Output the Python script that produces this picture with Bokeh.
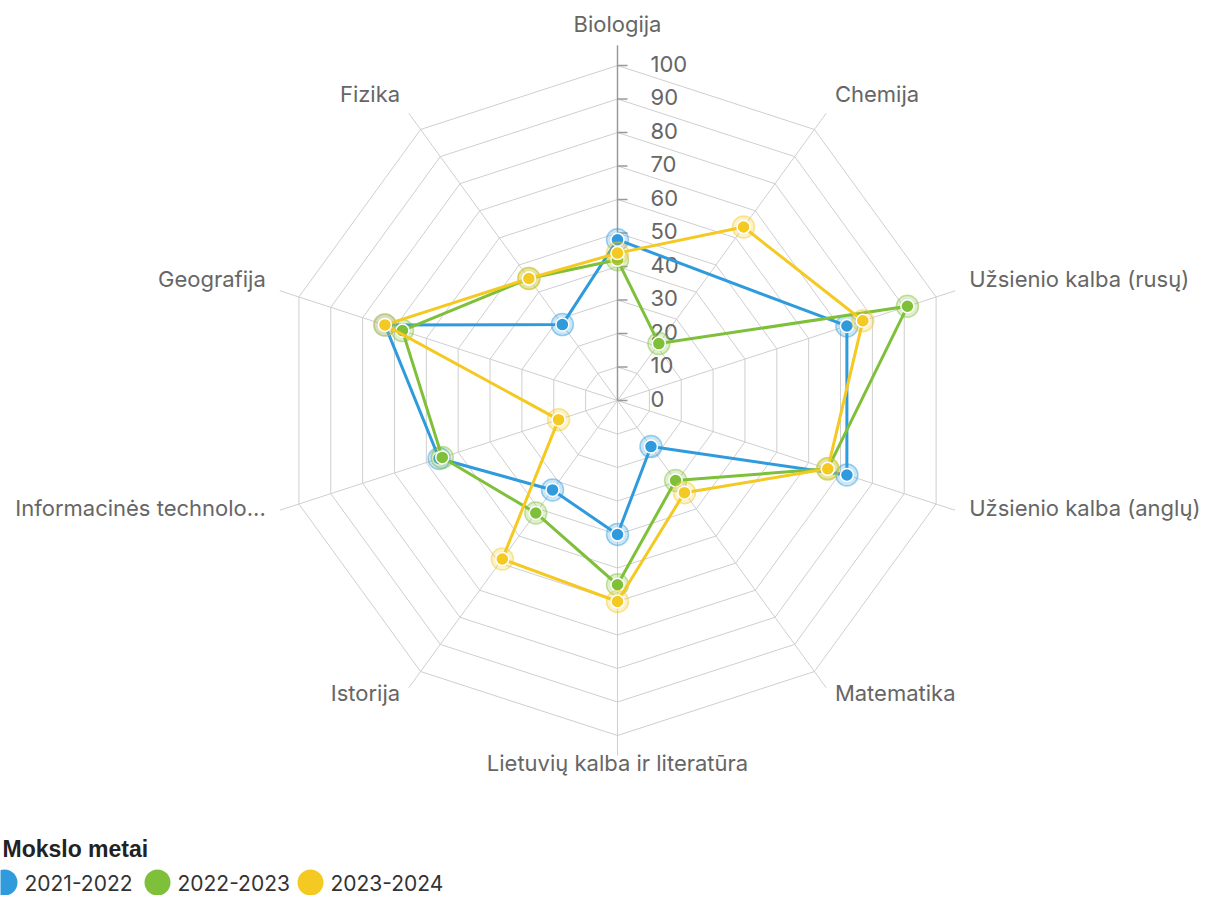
import math
from bokeh.plotting import figure
from bokeh.models import Range1d
from bokeh.core.properties import value
from bokeh.embed import file_html
from bokeh.resources import INLINE

# ---- data ----
categories = ["Biologija", "Chemija", "Užsienio kalba (rusų)", "Užsienio kalba (anglų)",
              "Matematika", "Lietuvių kalba ir literatūra", "Istorija",
              "Informacinės technolo...", "Geografija", "Fizika"]
series_names = ["2021-2022", "2022-2023", "2023-2024"]
v2021 = [48, None, 72, 72, 17, 40, 33, 56, 73, 28]
v2022 = [42, 21, 91, 66, 29.5, 55, 41.5, 55, 67.5, 45]
v2023 = [44, 64, 77, 66, 34, 60, 58.5, 18.5, 73, 45]
tick_values = [0, 10, 20, 30, 40, 50, 60, 70, 80, 90, 100]
legend_title = "Mokslo metai"

colors = ["#2f9bdc", "#7fc03a", "#f4c922"]
FONT = "Inter"

W, H = 1210, 895
S = 3.35            # px per unit
CX, CY = 617, 400   # centre in figure px
p = figure(width=W, height=H,
           x_range=Range1d(-CX / S, (W - CX) / S),
           y_range=Range1d(-(H - CY) / S, CY / S),
           output_backend="svg", toolbar_location=None,
           x_axis_location=None, y_axis_location=None, min_border=0)
p.grid.visible = False
p.outline_line_color = None

n = len(categories)
angles = [math.radians(90 - 360.0 * i / n) for i in range(n)]
rmax = tick_values[-1]
spoke_len = rmax * 1.06

# rings
ring_xs, ring_ys = [], []
for t in tick_values[1:]:
    ring_xs.append([t * math.cos(a) for a in angles] + [t * math.cos(angles[0])])
    ring_ys.append([t * math.sin(a) for a in angles] + [t * math.sin(angles[0])])
p.multi_line(ring_xs, ring_ys, line_color="#cfcfcf", line_width=1)

# spokes
p.multi_line([[0, spoke_len * math.cos(a)] for a in angles],
             [[0, spoke_len * math.sin(a)] for a in angles],
             line_color="#cfcfcf", line_width=1)

# value axis on first spoke
p.line([0, 0], [0, spoke_len], line_color="#9a9a9a", line_width=1.5)
p.segment(x0=[0] * len(tick_values), y0=tick_values,
          x1=[10 / S] * len(tick_values), y1=tick_values,
          line_color="#9a9a9a", line_width=1.5)
p.text(x=[0] * len(tick_values), y=tick_values, text=[str(t) for t in tick_values],
       x_offset=33, y_offset=-2, text_align="left", text_baseline="middle",
       text_font=value(FONT), text_font_size="22px", text_color="#666666")

# category labels
lab_r = 110.4
lx, ly, la = [], [], []
for a in angles:
    c = math.cos(a)
    lx.append(lab_r * c)
    ly.append(lab_r * math.sin(a))
    la.append("left" if c > 0.1 else ("right" if c < -0.1 else "center"))
for al in ("left", "right", "center"):
    idx = [i for i in range(n) if la[i] == al]
    p.text(x=[lx[i] for i in idx], y=[ly[i] for i in idx], text=[categories[i] for i in idx],
           y_offset=-7, text_align=al, text_baseline="middle",
           text_font=value(FONT), text_font_size="22px", text_color="#666666")

# series
for vals, col in zip([v2021, v2022, v2023], colors):
    xs = [v * math.cos(a) for v, a in zip(vals, angles) if v is not None]
    ys = [v * math.sin(a) for v, a in zip(vals, angles) if v is not None]
    p.line(xs + xs[:1], ys + ys[:1], line_color=col, line_width=3)
    p.scatter(xs, ys, size=22, fill_color=col, fill_alpha=0.25,
              line_color=col, line_alpha=0.45, line_width=1.5)
    p.scatter(xs, ys, size=13, fill_color=col, line_color="white", line_width=1.5)

# legend (manual)
def px2d(x, y):
    return ((x - CX) / S, (CY - y) / S)

tx, ty = px2d(2, 848)
p.text(x=[tx], y=[ty], text=[legend_title], text_align="left", text_baseline="middle",
       text_font=value("Liberation Sans"), text_font_style="bold",
       text_font_size="23px", text_color="#222222")
for k, (name, col) in enumerate(zip(series_names, colors)):
    cx_, cy_ = px2d(4 + 153 * k, 882)
    p.scatter([cx_], [cy_], size=26, fill_color=col, line_color=None)
    tx, ty = px2d(24 + 153 * k, 882)
    p.text(x=[tx], y=[ty], text=[name], text_align="left", text_baseline="middle",
           text_font=value(FONT), text_font_size="21px", text_color="#333333")

open("out.html", "w").write(file_html(p, INLINE))
